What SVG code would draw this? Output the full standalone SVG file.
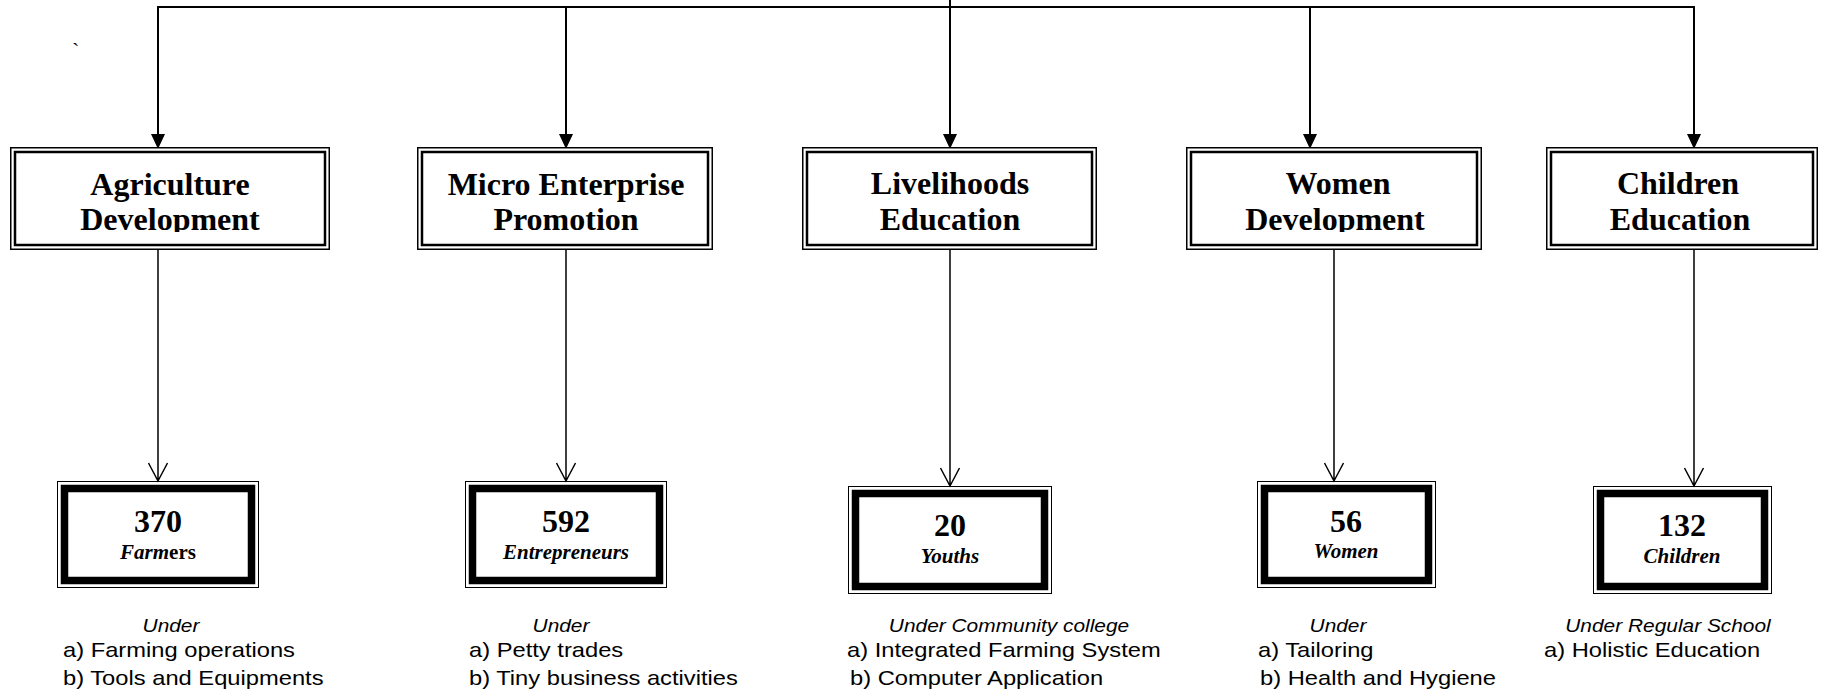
<svg xmlns="http://www.w3.org/2000/svg" width="1824" height="694" viewBox="0 0 1824 694">
<style>
  .bg { fill: #ffffff; }
  .bo { fill: none; stroke: #000; stroke-width: 1.5; }
  .bi { fill: none; stroke: #000; stroke-width: 2.5; }
  .co { fill: none; stroke: #000; stroke-width: 1; }
  .ci { fill: none; stroke: #000; stroke-width: 7.5; }
  .wire { fill: none; stroke: #000; stroke-width: 2; }
  .thin { fill: none; stroke: #000; stroke-width: 1.5; }
  .ahead { fill: #000; stroke: none; }
  .head { font-family: "Liberation Serif", "Times New Roman", serif; font-weight: bold; font-size: 32px; text-anchor: middle; fill: #000; }
  .num { font-family: "Liberation Serif", "Times New Roman", serif; font-weight: bold; font-size: 32px; text-anchor: middle; fill: #000; }
  .lab { font-family: "Liberation Serif", "Times New Roman", serif; font-weight: bold; font-style: italic; font-size: 21px; text-anchor: middle; fill: #000; }
  .up { font-style: normal; }
  .under { font-family: "Liberation Sans", Arial, sans-serif; font-style: italic; font-size: 18.5px; text-anchor: middle; fill: #000; }
  .desc { font-family: "Liberation Sans", Arial, sans-serif; font-size: 21px; fill: #000; }
  .tick { font-family: "Liberation Serif", "Times New Roman", serif; font-size: 22px; fill: #000; }
</style>
<defs>
  <clipPath id="headclip"><rect x="0" y="150" width="1824" height="82"/></clipPath>
</defs>
<rect class="bg" x="0" y="0" width="1824" height="694"/>

<text class="tick" x="72" y="58">`</text>

<g id="connectors">
  <path class="wire" d="M158,135 V7 H1694 V135"/>
  <path class="wire" d="M950,0 V135"/>
  <path class="wire" d="M566,7 V135"/>
  <path class="wire" d="M1310,7 V135"/>
  <polygon class="ahead" points="151,134 165,134 158,149"/>
  <polygon class="ahead" points="559,134 573,134 566,149"/>
  <polygon class="ahead" points="943,134 957,134 950,149"/>
  <polygon class="ahead" points="1303,134 1317,134 1310,149"/>
  <polygon class="ahead" points="1687,134 1701,134 1694,149"/>
  <path class="thin" d="M158,250 V481 M148.5,463 L158,481 L167.5,463"/>
  <path class="thin" d="M566,250 V481 M556.5,463 L566,481 L575.5,463"/>
  <path class="thin" d="M950,250 V486 M940.5,468 L950,486 L959.5,468"/>
  <path class="thin" d="M1334,250 V481 M1324.5,463 L1334,481 L1343.5,463"/>
  <path class="thin" d="M1694,250 V486 M1684.5,468 L1694,486 L1703.5,468"/>
</g>

<g id="agri">
  <rect class="bg" x="10" y="147" width="320" height="103"/>
  <rect class="bo" x="10.75" y="147.75" width="318.5" height="101.5"/>
  <rect class="bi" x="15" y="152" width="310" height="93"/>
  <g clip-path="url(#headclip)">
    <text class="head" x="170" y="195">Agriculture</text>
    <text class="head" x="170" y="230">Development</text>
  </g>
</g>
<g id="micro">
  <rect class="bg" x="417" y="147" width="296" height="103"/>
  <rect class="bo" x="417.75" y="147.75" width="294.5" height="101.5"/>
  <rect class="bi" x="422" y="152" width="286" height="93"/>
  <g clip-path="url(#headclip)">
    <text class="head" x="566" y="195">Micro Enterprise</text>
    <text class="head" x="566" y="230">Promotion</text>
  </g>
</g>
<g id="livelihoods">
  <rect class="bg" x="802" y="147" width="295" height="103"/>
  <rect class="bo" x="802.75" y="147.75" width="293.5" height="101.5"/>
  <rect class="bi" x="807" y="152" width="285" height="93"/>
  <g clip-path="url(#headclip)">
    <text class="head" x="950" y="194">Livelihoods</text>
    <text class="head" x="950" y="230">Education</text>
  </g>
</g>
<g id="women">
  <rect class="bg" x="1186" y="147" width="296" height="103"/>
  <rect class="bo" x="1186.75" y="147.75" width="294.5" height="101.5"/>
  <rect class="bi" x="1191" y="152" width="286" height="93"/>
  <g clip-path="url(#headclip)">
    <text class="head" x="1338" y="194">Women</text>
    <text class="head" x="1335" y="230">Development</text>
  </g>
</g>
<g id="children">
  <rect class="bg" x="1546" y="147" width="272" height="103"/>
  <rect class="bo" x="1546.75" y="147.75" width="270.5" height="101.5"/>
  <rect class="bi" x="1551" y="152" width="262" height="93"/>
  <g clip-path="url(#headclip)">
    <text class="head" x="1678" y="194">Children</text>
    <text class="head" x="1680" y="230">Education</text>
  </g>
</g>

<g id="farmers">
  <rect class="co" x="57.5" y="481.5" width="201" height="106"/>
  <rect class="ci" x="64.5" y="488.5" width="187" height="92"/>
  <text class="num" x="158" y="532">370</text>
  <text class="lab" x="158" y="559">Farm<tspan class="up">ers</tspan></text>
</g>
<g id="entrepreneurs">
  <rect class="co" x="465.5" y="481.5" width="201" height="106"/>
  <rect class="ci" x="472.5" y="488.5" width="187" height="92"/>
  <text class="num" x="566" y="532">592</text>
  <text class="lab" x="566" y="559">Entrepreneurs</text>
</g>
<g id="youths">
  <rect class="co" x="848.5" y="486.5" width="203" height="107"/>
  <rect class="ci" x="855.5" y="493.5" width="189" height="93"/>
  <text class="num" x="950" y="536">20</text>
  <text class="lab" x="950" y="563">Youths</text>
</g>
<g id="womencount">
  <rect class="co" x="1257.5" y="481.5" width="178" height="106"/>
  <rect class="ci" x="1264.5" y="488.5" width="164" height="92"/>
  <text class="num" x="1346" y="532">56</text>
  <text class="lab" x="1346" y="558">Women</text>
</g>
<g id="childrencount">
  <rect class="co" x="1593.5" y="486.5" width="178" height="107"/>
  <rect class="ci" x="1600.5" y="493.5" width="164" height="93"/>
  <text class="num" x="1682" y="536">132</text>
  <text class="lab" x="1682" y="563">Children</text>
</g>

<g id="notes-agri">
  <text class="under" transform="translate(171,632) scale(1.13,1)">Under</text>
  <text class="desc" transform="translate(63,657) scale(1.13,1)">a) Farming operations</text>
  <text class="desc" transform="translate(63,685) scale(1.13,1)">b) Tools and Equipments</text>
</g>
<g id="notes-micro">
  <text class="under" transform="translate(561,632) scale(1.13,1)">Under</text>
  <text class="desc" transform="translate(469,657) scale(1.13,1)">a) Petty trades</text>
  <text class="desc" transform="translate(469,685) scale(1.13,1)">b) Tiny business activities</text>
</g>
<g id="notes-live">
  <text class="under" transform="translate(1009,632) scale(1.13,1)">Under Community college</text>
  <text class="desc" transform="translate(847,657) scale(1.13,1)">a) Integrated Farming System</text>
  <text class="desc" transform="translate(850,685) scale(1.13,1)">b) Computer Application</text>
</g>
<g id="notes-women">
  <text class="under" transform="translate(1338,632) scale(1.13,1)">Under</text>
  <text class="desc" transform="translate(1258,657) scale(1.13,1)">a) Tailoring</text>
  <text class="desc" transform="translate(1260,685) scale(1.13,1)">b) Health and Hygiene</text>
</g>
<g id="notes-children">
  <text class="under" transform="translate(1668,632) scale(1.13,1)">Under Regular School</text>
  <text class="desc" transform="translate(1544,657) scale(1.13,1)">a) Holistic Education</text>
</g>
</svg>
